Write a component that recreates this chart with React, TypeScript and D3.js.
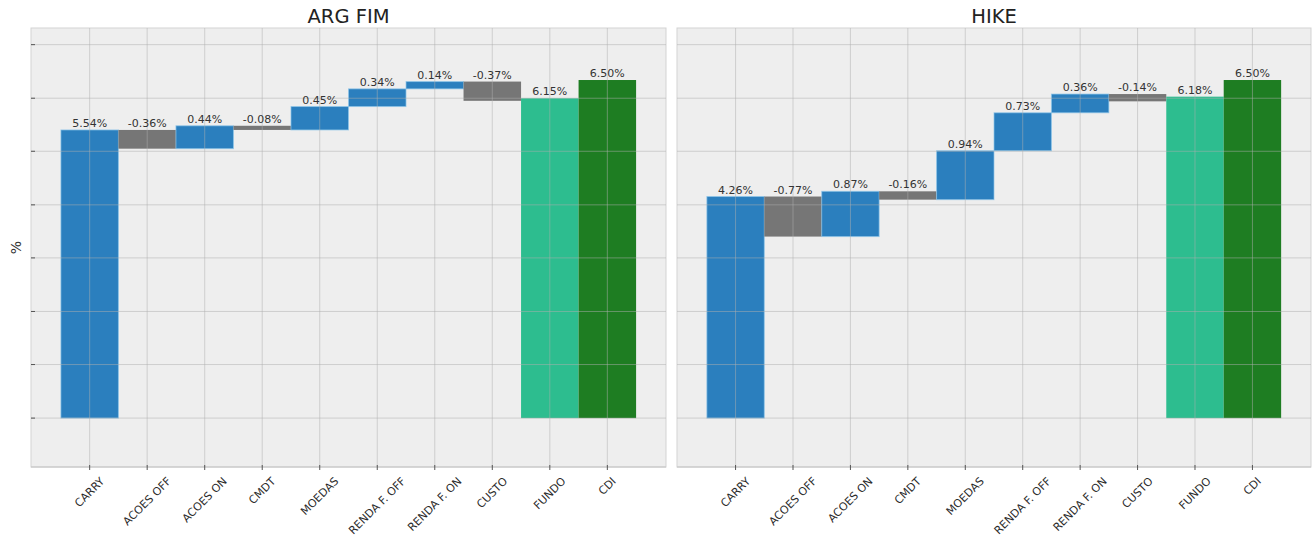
import React, { useEffect, useRef } from 'react';
import * as d3 from 'd3';

const categories = ['CARRY', 'ACOES OFF', 'ACOES ON', 'CMDT', 'MOEDAS', 'RENDA F. OFF', 'RENDA F. ON', 'CUSTO', 'FUNDO', 'CDI'];
const argFimValues = [5.54, -0.36, 0.44, -0.08, 0.45, 0.34, 0.14, -0.37, 6.15, 6.5];
const hikeValues = [4.26, -0.77, 0.87, -0.16, 0.94, 0.73, 0.36, -0.14, 6.18, 6.5];
const panelTitles = ['ARG FIM', 'HIKE'];
const totalCategories = ['FUNDO', 'CDI'];
const yTicks = [0, 1.03, 2.05, 3.08, 4.1, 5.13, 6.15, 7.18];
const yDomain = [-0.94, 7.5];

const width = 1312;
const height = 540;
const font = "'DejaVu Sans', sans-serif";
const colors = { up: '#2b7fbe', down: '#767676', FUNDO: '#2dbd8f', CDI: '#1e7d22' };

const panels = [
  { title: panelTitles[0], values: argFimValues, x0: 31, x1: 666, yTicks: true },
  { title: panelTitles[1], values: hikeValues, x0: 677, x1: 1311, yTicks: false },
];
const top = 28;
const bottom = 467;

// running totals for the waterfall, totals start from zero
const waterfall = (values: number[]) => {
  let run = 0;
  return values.map((v, i) => {
    const cat = categories[i];
    if (totalCategories.includes(cat)) {
      return { cat, v, start: 0, end: v, color: colors[cat as 'FUNDO' | 'CDI'] };
    }
    const start = run;
    run += v;
    return { cat, v, start, end: run, color: v >= 0 ? colors.up : colors.down };
  });
};

const App = () => {
  const ref = useRef<SVGSVGElement>(null);

  useEffect(() => {
    const svg = d3.select(ref.current).attr('width', width).attr('height', height);
    svg.selectAll('*').remove();

    const y = d3.scaleLinear().domain(yDomain).range([bottom, top]);

    panels.forEach(p => {
      const x = d3.scaleBand().domain(categories).range([p.x0, p.x1]).paddingInner(0).paddingOuter(0.52);
      const g = svg.append('g');
      const bars = waterfall(p.values);

      g.append('rect')
        .attr('x', p.x0)
        .attr('y', top)
        .attr('width', p.x1 - p.x0)
        .attr('height', bottom - top)
        .attr('fill', '#eeeeee')
        .attr('stroke', '#d3d3d3');

      g.selectAll('rect.bar')
        .data(bars)
        .enter()
        .append('rect')
        .classed('bar', true)
        .attr('x', d => x(d.cat)!)
        .attr('width', x.bandwidth())
        .attr('y', d => y(Math.max(d.start, d.end)))
        .attr('height', d => Math.abs(y(d.start) - y(d.end)))
        .attr('fill', d => d.color)
        .attr('stroke', d => (d.color === colors.up ? '#8fc6ea' : 'none'))
        .attr('stroke-opacity', 0.7)
        .attr('stroke-width', 1);

      // grid on top of bars
      g.selectAll('line.hgrid')
        .data(yTicks)
        .enter()
        .append('line')
        .attr('x1', p.x0)
        .attr('x2', p.x1)
        .attr('y1', d => y(d))
        .attr('y2', d => y(d))
        .attr('stroke', '#b0b0b0')
        .attr('stroke-opacity', 0.5);

      g.selectAll('line.vgrid')
        .data(categories)
        .enter()
        .append('line')
        .attr('x1', d => x(d)! + x.bandwidth() / 2)
        .attr('x2', d => x(d)! + x.bandwidth() / 2)
        .attr('y1', top)
        .attr('y2', bottom)
        .attr('stroke', '#b0b0b0')
        .attr('stroke-opacity', 0.5);

      g.append('line')
        .attr('x1', p.x0)
        .attr('x2', p.x1)
        .attr('y1', bottom)
        .attr('y2', bottom)
        .attr('stroke', '#c4c4c4');

      if (p.yTicks) {
        g.selectAll('line.ytick')
          .data(yTicks)
          .enter()
          .append('line')
          .attr('x1', p.x0)
          .attr('x2', p.x0 + 4)
          .attr('y1', d => y(d))
          .attr('y2', d => y(d))
          .attr('stroke', '#555');
      }

      g.selectAll('line.xtick')
        .data(categories)
        .enter()
        .append('line')
        .attr('x1', d => x(d)! + x.bandwidth() / 2)
        .attr('x2', d => x(d)! + x.bandwidth() / 2)
        .attr('y1', bottom - 2)
        .attr('y2', bottom + 3)
        .attr('stroke', '#555');

      g.selectAll('text.val')
        .data(bars)
        .enter()
        .append('text')
        .attr('x', d => x(d.cat)! + x.bandwidth() / 2)
        .attr('y', d => y(Math.max(d.start, d.end)) - 3)
        .attr('text-anchor', 'middle')
        .style('font-family', font)
        .style('font-size', '11px')
        .attr('fill', '#333')
        .text(d => `${d.v.toFixed(2)}%`);

      const labels = g
        .selectAll('text.xlab')
        .data(categories)
        .enter()
        .append('text')
        .attr('text-anchor', 'middle')
        .attr('dominant-baseline', 'central')
        .style('font-family', font)
        .style('font-size', '11px')
        .attr('fill', '#2a2a2a')
        .text(d => d);

      labels.each(function (d) {
        const el = this as SVGTextElement;
        const w = el.getComputedTextLength();
        const cx = x(d)! + x.bandwidth() / 2;
        const cy = bottom + 8 + ((w + 12.5) * Math.SQRT1_2) / 2;
        d3.select(el).attr('transform', `translate(${cx},${cy}) rotate(-45)`);
      });

      g.append('text')
        .attr('x', (p.x0 + p.x1) / 2)
        .attr('y', 23)
        .attr('text-anchor', 'middle')
        .style('font-family', font)
        .style('font-size', '19.5px')
        .attr('fill', '#222')
        .text(p.title);
    });

    svg
      .append('text')
      .attr('transform', `translate(21,${(top + bottom) / 2}) rotate(-90)`)
      .attr('text-anchor', 'middle')
      .style('font-family', font)
      .style('font-size', '14px')
      .attr('fill', '#333')
      .text('%');
  });

  return <svg ref={ref} style={{ position: 'absolute', left: 0, top: 0 }}></svg>;
};

export default App;
